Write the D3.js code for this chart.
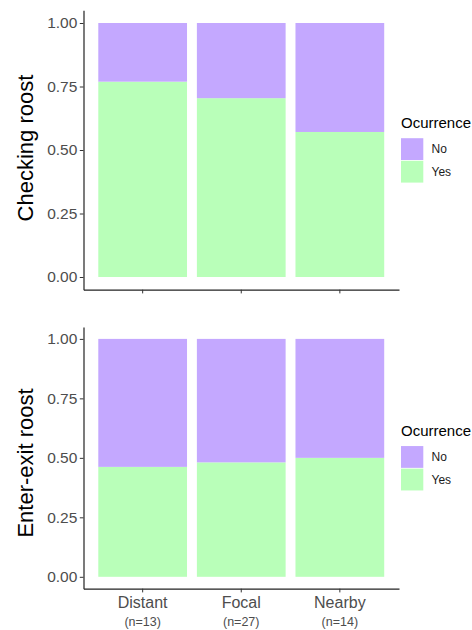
<!DOCTYPE html>
<html>
<head>
<meta charset="utf-8">
<script src="https://cdn.jsdelivr.net/npm/d3@7"></script>
<style>
  html, body { margin: 0; padding: 0; background: #fff; }
  svg { display: block; font-family: "Liberation Sans", Arial, sans-serif; }
</style>
</head>
<body>
<svg id="chart" width="472" height="630"></svg>
<script>
// ---- data ----
const categories = ["Distant", "Focal", "Nearby"];
const sampleSizes = ["(n=13)", "(n=27)", "(n=14)"];
const checkingYes = [0.769, 0.704, 0.571];
const checkingNo  = [0.231, 0.296, 0.429];
const enterYes    = [0.462, 0.481, 0.500];
const enterNo     = [0.538, 0.519, 0.500];
const yTicks = [0, 0.25, 0.5, 0.75, 1.0];
const legendKeys = ["No", "Yes"];
const legendTitle = "Ocurrence";
const panelTitles = ["Checking roost", "Enter-exit roost"];

const colors = { No: "#c4a8ff", Yes: "#b9ffb9" };
const svg = d3.select("#chart");

const x = d3.scaleBand().domain(categories).range([83.5, 399])
  .paddingInner(0.1).paddingOuter(0.15);

const panels = [
  { title: panelTitles[0], yes: checkingYes, no: checkingNo, top: 10.3, bottom: 289.7, showX: false, titleY: 148 },
  { title: panelTitles[1], yes: enterYes, no: enterNo, top: 327, bottom: 588.7, showX: true, titleY: 463 }
];

panels.forEach(p => {
  const y = d3.scaleLinear().domain([-0.05, 1.05]).range([p.bottom, p.top]);
  const rows = categories.map((c, i) => ({ cat: c, Yes: p.yes[i], No: p.no[i] }));
  const series = d3.stack().keys(["Yes", "No"])(rows);
  const g = svg.append("g");

  series.forEach(s => {
    g.selectAll(null).data(s).join("rect")
      .attr("x", d => x(d.data.cat))
      .attr("width", x.bandwidth())
      .attr("y", d => y(d[1]))
      .attr("height", d => y(d[0]) - y(d[1]))
      .attr("fill", colors[s.key]);
  });

  // y axis
  const yAxis = d3.axisLeft(y).tickValues(yTicks).tickFormat(d3.format(".2f"))
    .tickSizeInner(3.7).tickSizeOuter(0).tickPadding(2.5);
  const ya = g.append("g").attr("transform", "translate(83.5,0)").call(yAxis);
  ya.select(".domain").attr("stroke", "#222").attr("stroke-width", 1.2);
  ya.selectAll(".tick line").attr("stroke", "#333").attr("stroke-width", 1);
  ya.selectAll(".tick text").attr("fill", "#4d4d4d").attr("font-size", 15.5)
    .attr("font-family", "Liberation Sans, Arial, sans-serif");

  // x axis
  const xAxis = d3.axisBottom(x).tickSizeInner(3.7).tickSizeOuter(0).tickFormat("");
  const xa = g.append("g").attr("transform", `translate(0,${p.bottom})`).call(xAxis);
  xa.select(".domain").attr("stroke", "#222").attr("stroke-width", 1.2);
  xa.selectAll(".tick line").attr("stroke", "#333").attr("stroke-width", 1);

  if (p.showX) {
    categories.forEach((c, i) => {
      const cx = x(c) + x.bandwidth() / 2;
      g.append("text").attr("x", cx).attr("y", p.bottom + 19)
        .attr("text-anchor", "middle").attr("fill", "#4d4d4d").attr("font-size", 16)
        .text(c);
      g.append("text").attr("x", cx).attr("y", p.bottom + 37.5)
        .attr("text-anchor", "middle").attr("fill", "#4d4d4d").attr("font-size", 12.5)
        .text(sampleSizes[i]);
    });
  }

  // y title
  g.append("text")
    .attr("transform", `translate(32.5,${p.titleY}) rotate(-90)`)
    .attr("text-anchor", "middle").attr("fill", "#000").attr("font-size", 22)
    .text(p.title);

  // legend
  const mid = (p.top + p.bottom) / 2;
  const boxTop = mid - 11.8;
  const lg = g.append("g");
  lg.append("text").attr("x", 401).attr("y", boxTop - 10)
    .attr("fill", "#000").attr("font-size", 15).text(legendTitle);
  legendKeys.forEach((k, i) => {
    lg.append("rect").attr("x", 401).attr("y", boxTop + i * 22.6)
      .attr("width", 22.3).attr("height", 21.8).attr("fill", colors[k]);
    lg.append("text").attr("x", 431.5).attr("y", boxTop + i * 22.6 + 11)
      .attr("dy", "0.35em").attr("fill", "#1a1a1a").attr("font-size", 12).text(k);
  });
});
</script>
</body>
</html>
